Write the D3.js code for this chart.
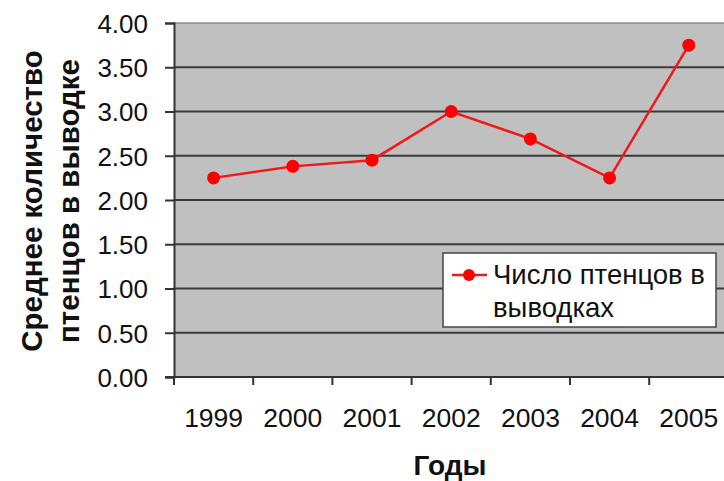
<!DOCTYPE html>
<html><head><meta charset="utf-8">
<script src="https://cdn.jsdelivr.net/npm/d3@7/dist/d3.min.js"></script>
<style>body{margin:0;background:#fff}svg{display:block}text{font-family:"Liberation Sans",Arial,sans-serif}</style>
</head><body>
<svg id="c" width="724" height="481"></svg>
<script>
const years = ["1999","2000","2001","2002","2003","2004","2005"];
const values = [2.25, 2.38, 2.45, 3.0, 2.69, 2.25, 3.75];
const yTicks = [0,0.5,1,1.5,2,2.5,3,3.5,4];
const seriesName = ["Число птенцов в", "выводках"];
const yTitle = ["Среднее количество", "птенцов в выводке"];
const xTitle = "Годы";

const svg = d3.select("#c");
const L = 174, T = 23, B = 377, STEP = 79.2, R = L + 7*STEP;
const y = d3.scaleLinear().domain([0,4]).range([B,T]);
const x = d3.scaleBand().domain(years).range([L, R]);
const xc = d => x(d) + x.bandwidth()/2;

svg.append("rect").attr("x",L).attr("y",T).attr("width",R-L).attr("height",B-T).attr("fill","#c0c0c0");
svg.append("line").attr("x1",L).attr("x2",R).attr("y1",T).attr("y2",T).attr("stroke","#8a8a8a").attr("stroke-width",1.5);
// gridlines
svg.selectAll(".g").data(yTicks.filter(d=>d>0 && d<4)).enter().append("line")
  .attr("x1",L).attr("x2",R).attr("y1",d=>y(d)).attr("y2",d=>y(d))
  .attr("stroke","#3a3a3a").attr("stroke-width",2);

// y axis
const ya = svg.append("g").attr("transform",`translate(${L},0)`)
  .call(d3.axisLeft(y).tickValues(yTicks).tickFormat(d3.format(".2f")).tickSize(9).tickPadding(17));
ya.select(".domain").attr("stroke","#333").attr("stroke-width",2);
ya.selectAll(".tick line").attr("stroke","#333").attr("stroke-width",2);
ya.selectAll("text").attr("font-size",26).attr("fill","#111").attr("dy","0.36em");

// x axis
const xa = svg.append("g").attr("transform",`translate(0,${B})`)
  .call(d3.axisBottom(x).tickSize(0).tickPadding(31));
xa.select(".domain").remove();
xa.selectAll("text").attr("font-size",26.5).attr("fill","#111").attr("dy","0.71em");
svg.append("line").attr("x1",L-9).attr("x2",R).attr("y1",B).attr("y2",B).attr("stroke","#333").attr("stroke-width",2);
svg.selectAll(".xt").data(years).enter().append("line")
  .attr("x1",d=>x(d)).attr("x2",d=>x(d)).attr("y1",B).attr("y2",B+8)
  .attr("stroke","#333").attr("stroke-width",2);

// line
const line = d3.line().x((d,i)=>xc(years[i])).y(d=>y(d));
svg.append("path").datum(values).attr("d",line).attr("fill","none").attr("stroke","#f01818").attr("stroke-width",2.5);
svg.selectAll(".pt").data(values).enter().append("circle")
  .attr("cx",(d,i)=>xc(years[i])).attr("cy",d=>y(d)).attr("r",6.5).attr("fill","#ff0000");

// legend
const lg = svg.append("g");
lg.append("rect").attr("x",443).attr("y",253).attr("width",273).attr("height",74).attr("fill","#fff").attr("stroke","#444").attr("stroke-width",1.5);
lg.append("line").attr("x1",452).attr("x2",487).attr("y1",275).attr("y2",275).attr("stroke","#f01818").attr("stroke-width",2.5);
lg.append("circle").attr("cx",469).attr("cy",275).attr("r",6).attr("fill","#ff0000");
lg.selectAll("text").data(seriesName).enter().append("text")
  .attr("x",493).attr("y",(d,i)=>284+i*33).attr("font-size",27.5).attr("fill","#111").text(d=>d);

// titles
svg.append("text").attr("x",450).attr("y",475).attr("text-anchor","middle").attr("font-size",28).attr("font-weight","bold").attr("fill","#111").text(xTitle);
const yt = svg.append("g").attr("transform","translate(0,201) rotate(-90)");
yt.selectAll("text").data(yTitle).enter().append("text")
  .attr("x",0).attr("y",(d,i)=>42+i*37).attr("text-anchor","middle").attr("font-size",29.5).attr("font-weight","bold").attr("fill","#111").text(d=>d);
</script>
</body></html>
